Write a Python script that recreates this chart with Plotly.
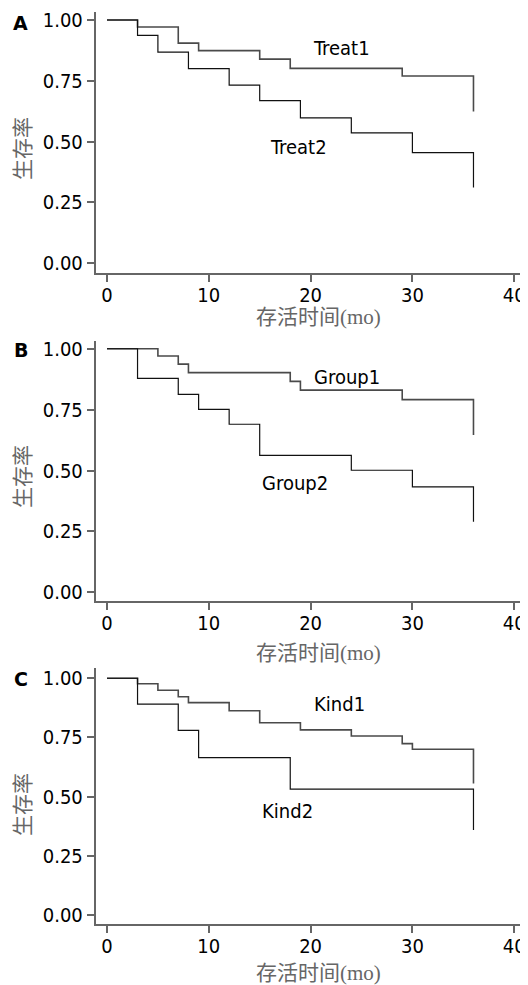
import plotly.graph_objects as go

# ---- data (months, survival rate) ----
treat1_t = [0, 3, 7, 9, 15, 18, 29, 36]
treat1_s = [1.00, 0.971, 0.905, 0.874, 0.839, 0.801, 0.770, 0.624]
treat2_t = [0, 3, 5, 8, 12, 15, 19, 24, 30, 36]
treat2_s = [1.00, 0.937, 0.868, 0.800, 0.732, 0.669, 0.598, 0.536, 0.455, 0.311]

group1_t = [0, 5, 7, 8, 18, 19, 29, 36]
group1_s = [1.00, 0.970, 0.937, 0.902, 0.866, 0.830, 0.791, 0.646]
group2_t = [0, 3, 7, 9, 12, 15, 24, 30, 36]
group2_s = [1.00, 0.878, 0.813, 0.751, 0.690, 0.562, 0.501, 0.433, 0.290]

kind1_t = [0, 3, 5, 7, 8, 12, 15, 19, 24, 29, 30, 36]
kind1_s = [1.00, 0.977, 0.949, 0.922, 0.897, 0.863, 0.812, 0.782, 0.756, 0.724, 0.700, 0.556]
kind2_t = [0, 3, 7, 9, 18, 36]
kind2_s = [1.00, 0.891, 0.780, 0.665, 0.532, 0.359]

panel_letters = ["A", "B", "C"]
series_names = [("Treat1", "Treat2"), ("Group1", "Group2"), ("Kind1", "Kind2")]
label_pos = [((23.05, 0.885), (18.86, 0.48)),
             ((23.55, 0.883), (18.47, 0.45)),
             ((22.82, 0.89), (17.71, 0.44))]
x_ticks = [0, 10, 20, 30, 40]
y_ticks = [0, 0.25, 0.5, 0.75, 1.0]
y_title = "生存率"
x_title = "存活时间(mo)"

OFF = 8  # page body margin
W, H = 528 - OFF, 985 - OFF
panels = [
    dict(top=12.0, bottom=272.7, yr=[-0.0387, 1.0329], xt=316.7, yt=149, lt=22.7),
    dict(top=340.7, bottom=601.3, yr=[-0.037, 1.033], xt=653.0, yt=477, lt=350.0),
    dict(top=668.3, bottom=924.3, yr=[-0.039, 1.042], xt=973.0, yt=805, lt=679.3),
]
curves = [(treat1_t, treat1_s, treat2_t, treat2_s),
          (group1_t, group1_s, group2_t, group2_s),
          (kind1_t, kind1_s, kind2_t, kind2_s)]

tick_font = dict(family="DejaVu Sans Condensed, Liberation Sans, sans-serif", size=20, color="#000")
cjk_font = dict(family="Liberation Serif, Noto Sans CJK SC, serif", size=21, color="#666")


def px_x(x):
    return (x - OFF) / W


def px_y(y):
    return 1 - (y - OFF) / H


fig = go.Figure()
layout = dict(width=W, height=H, margin=dict(l=0, r=0, t=0, b=0, autoexpand=False),
              plot_bgcolor="white", paper_bgcolor="white", showlegend=False)
annotations = []
x_dom = [px_x(95.7), 1.0]
x_range = [-1.11, (528 - 107) / 10.18]

for i, p in enumerate(panels):
    n = "" if i == 0 else str(i + 1)
    t1, s1, t2, s2 = curves[i]
    fig.add_trace(go.Scatter(x=t1, y=s1, mode="lines", line=dict(shape="hv", color="#4a4a4a", width=1.6),
                             xaxis="x" + n, yaxis="y" + n, name=series_names[i][0]))
    fig.add_trace(go.Scatter(x=t2, y=s2, mode="lines", line=dict(shape="hv", color="#111", width=1.2),
                             xaxis="x" + n, yaxis="y" + n, name=series_names[i][1]))
    ydom = [px_y(p["bottom"]), px_y(p["top"])]
    layout["xaxis" + n] = dict(domain=x_dom, range=x_range, anchor="y" + n,
                               tickvals=x_ticks, ticks="outside", ticklen=7, tickwidth=1.5,
                               tickcolor="#666", showline=True, linecolor="#666", linewidth=1.8,
                               showgrid=False, zeroline=False, tickfont=tick_font,
                               ticklabelstandoff=-4)
    layout["yaxis" + n] = dict(domain=ydom, range=p["yr"], anchor="x" + n,
                               tickvals=y_ticks, tickformat=".2f", ticks="outside", ticklen=7,
                               tickwidth=1.5, tickcolor="#666", showline=True, linecolor="#666",
                               linewidth=1.8, showgrid=False, zeroline=False, tickfont=tick_font)
    for (lx, ly), name in zip(label_pos[i], series_names[i]):
        annotations.append(dict(x=lx, y=ly, xref="x" + n, yref="y" + n, text=name,
                                xanchor="center", yanchor="middle",
                                showarrow=False, font=tick_font))
    annotations.append(dict(x=px_x(20.7), y=px_y(p["lt"]), xref="paper", yref="paper",
                            text="<b>%s</b>" % panel_letters[i], showarrow=False,
                            xanchor="center", yanchor="middle",
                            font=dict(family="DejaVu Sans, sans-serif", size=19, color="#000")))
    annotations.append(dict(x=px_x(318), y=px_y(p["xt"]), xref="paper", yref="paper",
                            text=x_title, showarrow=False, xanchor="center", yanchor="middle",
                            font=cjk_font))
    annotations.append(dict(x=px_x(23), y=px_y(p["yt"]), xref="paper", yref="paper",
                            text=y_title, textangle=-90, showarrow=False,
                            xanchor="center", yanchor="middle", font=cjk_font))

layout["annotations"] = annotations
fig.update_layout(**layout)
fig.write_html("out.html")
